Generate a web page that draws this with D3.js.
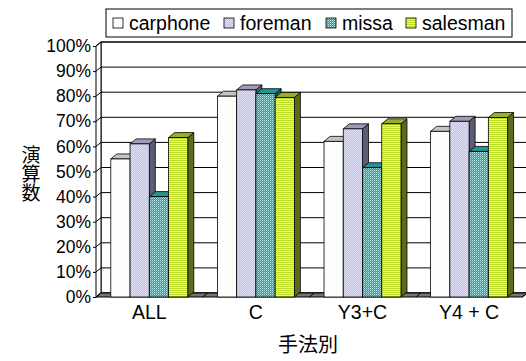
<!DOCTYPE html>
<html>
<head>
<meta charset="utf-8">
<script src="https://cdn.jsdelivr.net/npm/d3@7"></script>
<style>
  html, body { margin: 0; padding: 0; background: #fff; }
  svg { display: block; }
  text { font-family: "Liberation Sans", Arial, sans-serif; fill: #000; }
  .cjk { font-family: "Noto Sans CJK JP", sans-serif; }
</style>
</head>
<body>
<svg id="chart" width="526" height="361"></svg>
<script>
// ---- data ----
const categories = ["ALL", "C", "Y3+C", "Y4 + C"];
const seriesNames = ["carphone", "foreman", "missa", "salesman"];
const carphone = [55, 80, 62, 66];
const foreman  = [61, 82.5, 67, 70];
const missa    = [40, 81, 51.5, 58];
const salesman = [63.5, 79.5, 69, 71.5];
const yTicks = [0, 10, 20, 30, 40, 50, 60, 70, 80, 90, 100];
const yTitle = "演算数";
const xTitle = "手法別";

const seriesValues = [carphone, foreman, missa, salesman];

// ---- layout ----
const svg = d3.select("#chart");
const plotLeft = 96, plotRight = 522.4, floorY = 297, topY = 46;
const wallDx = 5, wallDy = -4;   // depth of the walls
const barDx = 6, barDy = -5;     // depth of each column

const y = d3.scaleLinear().domain([0, 100]).range([floorY, topY]);
const x0 = d3.scaleBand().domain(categories).range([plotLeft, plotRight])
  .paddingInner(0.278).paddingOuter(0.139);
const x1 = d3.scaleBand().domain(seriesNames).range([0, x0.bandwidth()]);

// ---- fill patterns ----
const defs = svg.append("defs");
function pattern(id, w, h, base, cells) {
  const p = defs.append("pattern").attr("id", id).attr("patternUnits", "userSpaceOnUse")
    .attr("width", w).attr("height", h);
  p.append("rect").attr("width", w).attr("height", h).attr("fill", base);
  cells.forEach(c => p.append("rect").attr("x", c[0]).attr("y", c[1])
    .attr("width", c[2]).attr("height", c[3]).attr("fill", c[4]));
}
pattern("p-carphone", 4, 4, "#ffffff", [[0, 0, 1, 1, "#eef3ee"], [2, 2, 1, 1, "#eef3ee"]]);
pattern("p-foreman", 2, 2, "#c4c4e8", [[0, 0, 1, 1, "#dcdcf4"], [1, 1, 1, 1, "#dcdcf4"]]);
pattern("p-missa", 2, 2, "#1ea4a4", [[0, 0, 1, 1, "#b4ecec"], [1, 1, 1, 1, "#58c4c4"]]);
pattern("p-salesman", 2, 2, "#bcdc28", [[0, 1, 2, 1, "#e8f890"]]);

const faceFill = {
  carphone: { front: "url(#p-carphone)", top: "#c4c4c4", side: "#8c8c8c" },
  foreman:  { front: "url(#p-foreman)",  top: "#9c9cb8", side: "#5c5c78" },
  missa:    { front: "url(#p-missa)",    top: "#249494", side: "#145e5e" },
  salesman: { front: "url(#p-salesman)", top: "#9aae2c", side: "#5a6c1c" }
};

function poly(g, pts, fill, sw) {
  return g.append("polygon")
    .attr("points", pts.map(p => p.join(",")).join(" "))
    .attr("fill", fill).attr("stroke", "#000").attr("stroke-width", sw || 1)
    .attr("stroke-linejoin", "miter");
}

// ---- walls ----
const walls = svg.append("g");
// back wall
walls.append("rect")
  .attr("x", plotLeft + wallDx).attr("y", topY + wallDy)
  .attr("width", plotRight - plotLeft).attr("height", floorY - topY)
  .attr("fill", "#fff").attr("stroke", "#000");
// side wall
poly(walls, [[plotLeft, floorY], [plotLeft, topY], [plotLeft + wallDx, topY + wallDy],
  [plotLeft + wallDx, floorY + wallDy]], "#fff");

// gridlines on the back wall and side wall
yTicks.forEach(t => {
  walls.append("line")
    .attr("x1", plotLeft + wallDx).attr("x2", plotRight + wallDx)
    .attr("y1", y(t) + wallDy).attr("y2", y(t) + wallDy)
    .attr("stroke", "#000").attr("stroke-width", 1);
  walls.append("line")
    .attr("x1", plotLeft).attr("y1", y(t))
    .attr("x2", plotLeft + wallDx).attr("y2", y(t) + wallDy)
    .attr("stroke", "#000").attr("stroke-width", 1);
});

// floor
poly(walls, [[plotLeft, floorY], [plotRight, floorY], [plotRight + wallDx, floorY + wallDy],
  [plotLeft + wallDx, floorY + wallDy]], "#747474");
// category divisions on the floor
const bounds = categories.map((c, i) => plotLeft + i * x0.step()).concat([plotRight]);
bounds.forEach(bx => {
  walls.append("line").attr("x1", bx).attr("y1", floorY)
    .attr("x2", bx + wallDx).attr("y2", floorY + wallDy)
    .attr("stroke", "#000").attr("stroke-width", 1);
});

// ---- columns ----
const bars = svg.append("g");
categories.forEach((cat, ci) => {
  seriesNames.forEach((s, si) => {
    const v = seriesValues[si][ci];
    const xl = x0(cat) + x1(s), xr = xl + x1.bandwidth();
    const yt = y(v), yb = floorY;
    const f = faceFill[s];
    const g = bars.append("g");
    // side face
    poly(g, [[xr, yb], [xr, yt], [xr + barDx, yt + barDy], [xr + barDx, yb + barDy]], f.side, 0.8);
    // top face
    poly(g, [[xl, yt], [xr, yt], [xr + barDx, yt + barDy], [xl + barDx, yt + barDy]], f.top, 0.8);
    // front face
    g.append("rect").attr("x", xl).attr("y", yt)
      .attr("width", xr - xl).attr("height", yb - yt)
      .attr("fill", f.front).attr("stroke", "#000").attr("stroke-width", 0.8);
  });
});

// ---- axes ----
const yAxis = d3.axisLeft(y).tickValues(yTicks).tickFormat(d => d + "%")
  .tickSize(3).tickPadding(2);
const yg = svg.append("g").attr("transform", `translate(${plotLeft},0)`).call(yAxis);
yg.select(".domain").remove();
yg.selectAll("line").attr("stroke", "#000");
yg.selectAll("text").attr("font-size", 17.5)
  .attr("font-family", "'Liberation Sans', Arial, sans-serif").attr("fill", "#000");

const xAxis = d3.axisBottom(x0).tickSize(0).tickPadding(8);
const xg = svg.append("g").attr("transform", `translate(0,${floorY})`).call(xAxis);
xg.select(".domain").remove();
xg.selectAll("text").attr("font-size", 19.5)
  .attr("font-family", "'Liberation Sans', Arial, sans-serif").attr("fill", "#000");

// ---- axis titles ----
// vertical title, characters stacked upright
svg.append("text").attr("class", "cjk")
  .attr("x", 31).attr("y", 145)
  .style("writing-mode", "vertical-rl")
  .style("text-orientation", "upright")
  .attr("font-size", 19)
  .text(yTitle);

svg.append("text").attr("class", "cjk")
  .attr("x", 308).attr("y", 352)
  .attr("text-anchor", "middle")
  .attr("font-size", 20)
  .text(xTitle);

// ---- legend ----
const legend = svg.append("g");
legend.append("rect").attr("x", 106).attr("y", 9).attr("width", 406).attr("height", 28)
  .attr("fill", "#fff").attr("stroke", "#000").attr("stroke-width", 1);
const legendX = [113, 224, 326, 406];
seriesNames.forEach((s, i) => {
  legend.append("rect").attr("x", legendX[i]).attr("y", 18).attr("width", 10).attr("height", 10)
    .attr("fill", faceFill[s].front).attr("stroke", "#000").attr("stroke-width", 0.8);
  legend.append("text").attr("x", legendX[i] + 16).attr("y", 30)
    .attr("font-size", 19.5).text(s);
});
</script>
</body>
</html>
